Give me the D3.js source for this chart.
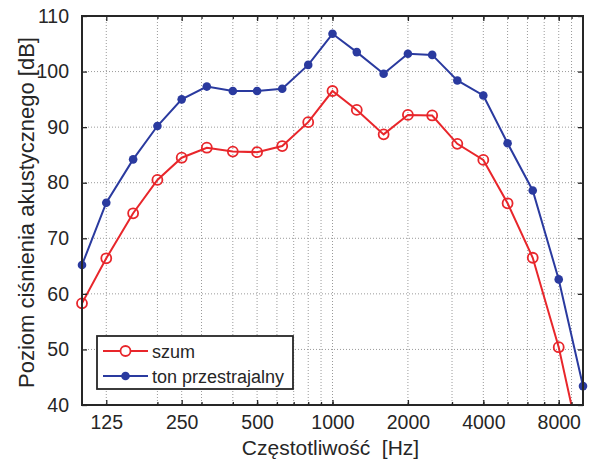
<!DOCTYPE html>
<html>
<head>
<meta charset="utf-8">
<script src="https://cdn.jsdelivr.net/npm/d3@7"></script>
<style>
  html, body { margin: 0; padding: 0; background: #fff; }
  svg { display: block; font-family: "Liberation Sans", Arial, Helvetica, sans-serif; }
</style>
</head>
<body>
<svg id="chart" width="589" height="466"></svg>
<script>
// Third-octave band centre frequencies [Hz]
const freqs = [100, 125, 160, 200, 250, 315, 400, 500, 630, 800, 1000,
               1250, 1600, 2000, 2500, 3150, 4000, 5000, 6300, 8000, 10000];
// Sound pressure level [dB] for each band
const szum = [58.3, 66.4, 74.5, 80.5, 84.5, 86.3, 85.6, 85.5, 86.6, 90.9, 96.5,
              93.1, 88.7, 92.2, 92.1, 87.0, 84.1, 76.3, 66.5, 50.4, 30.5];
const tonPrzestrajalny = [65.2, 76.4, 84.2, 90.2, 95.0, 97.3, 96.5, 96.5, 96.9, 101.2, 106.8,
                          103.5, 99.6, 103.2, 103.0, 98.4, 95.7, 87.1, 78.6, 62.6, 43.4];
const xTicks = [125, 250, 500, 1000, 2000, 4000, 8000];
const xMinor = [200, 300, 400, 500, 600, 700, 800, 900,
                1000, 2000, 3000, 4000, 5000, 6000, 7000, 8000, 9000];
const yTicks = [40, 50, 60, 70, 80, 90, 100, 110];
const seriesNames = ["szum", "ton przestrajalny"];

const svg = d3.select("#chart");
const L = 82, R = 583, T = 16, B = 405;

const x = d3.scaleLog().domain([100, 10000]).range([L, R]);
const y = d3.scaleLinear().domain([40, 110]).range([B, T]);

const axisColor = "#262626";
const gridColor = "#9a9a9a";
const red = "#e8262b";
const blue = "#2a3a9f";

// grid
const grid = svg.append("g");
const gridX = Array.from(new Set(xMinor.concat(xTicks))).sort((a, b) => a - b);
grid.selectAll("line.gx").data(gridX).join("line")
  .attr("x1", d => x(d)).attr("x2", d => x(d))
  .attr("y1", T).attr("y2", B)
  .attr("stroke", gridColor).attr("stroke-width", 1)
  .attr("stroke-dasharray", "1,2");
grid.selectAll("line.gy").data(yTicks.slice(1, -1)).join("line")
  .attr("x1", L).attr("x2", R)
  .attr("y1", d => y(d)).attr("y2", d => y(d))
  .attr("stroke", gridColor).attr("stroke-width", 1)
  .attr("stroke-dasharray", "1,2");

// clip region for the lines
svg.append("defs").append("clipPath").attr("id", "plotClip")
  .append("rect").attr("x", L).attr("y", T).attr("width", R - L).attr("height", B - T);

const line = d3.line().x(d => x(d[0])).y(d => y(d[1]));
const redData = freqs.map((f, i) => [f, szum[i]]);
const blueData = freqs.map((f, i) => [f, tonPrzestrajalny[i]]);
const inRange = d => d[1] >= 40 && d[1] <= 110;

const plot = svg.append("g").attr("clip-path", "url(#plotClip)");
plot.append("path").datum(redData).attr("d", line)
  .attr("fill", "none").attr("stroke", red).attr("stroke-width", 2);
plot.append("path").datum(blueData).attr("d", line)
  .attr("fill", "none").attr("stroke", blue).attr("stroke-width", 2);

// markers (only those inside the y range), not clipped at the frame edges
const marks = svg.append("g");
marks.selectAll("circle.r").data(redData.filter(inRange)).join("circle")
  .attr("class", "r")
  .attr("cx", d => x(d[0])).attr("cy", d => y(d[1])).attr("r", 5)
  .attr("fill", "none").attr("stroke", red).attr("stroke-width", 1.8);
marks.selectAll("circle.b").data(blueData.filter(inRange)).join("circle")
  .attr("class", "b")
  .attr("cx", d => x(d[0])).attr("cy", d => y(d[1])).attr("r", 4.3)
  .attr("fill", blue);

// axes
const fontSize = 19.5;
const xAxisB = d3.axisBottom(x).tickValues(xTicks).tickFormat(d3.format("d"))
  .tickSizeInner(-5).tickSizeOuter(0).tickPadding(10);
const gxB = svg.append("g").attr("transform", `translate(0,${B})`).call(xAxisB);
const xAxisT = d3.axisTop(x).tickValues(xTicks).tickFormat("").tickSizeInner(-5).tickSizeOuter(0);
const gxT = svg.append("g").attr("transform", `translate(0,${T})`).call(xAxisT);
const xMinB = d3.axisBottom(x).tickValues(xMinor).tickFormat("").tickSizeInner(-3).tickSizeOuter(0);
const gmB = svg.append("g").attr("transform", `translate(0,${B})`).call(xMinB);
const xMinT = d3.axisTop(x).tickValues(xMinor).tickFormat("").tickSizeInner(-3).tickSizeOuter(0);
const gmT = svg.append("g").attr("transform", `translate(0,${T})`).call(xMinT);

const yAxisL = d3.axisLeft(y).tickValues(yTicks).tickSizeInner(-5).tickSizeOuter(0).tickPadding(13);
const gyL = svg.append("g").attr("transform", `translate(${L},0)`).call(yAxisL);
const yAxisR = d3.axisRight(y).tickValues(yTicks).tickFormat("").tickSizeInner(-5).tickSizeOuter(0);
const gyR = svg.append("g").attr("transform", `translate(${R},0)`).call(yAxisR);

[gxB, gxT, gmB, gmT, gyL, gyR].forEach(g => {
  g.select(".domain").remove();
  g.selectAll(".tick line").attr("stroke", axisColor).attr("stroke-width", 1.3);
  g.selectAll(".tick text").attr("fill", "#262626").attr("font-size", fontSize)
    .attr("font-family", "'Liberation Sans', Arial, sans-serif");
});

// box
svg.append("rect").attr("x", L).attr("y", T).attr("width", R - L).attr("height", B - T)
  .attr("fill", "none").attr("stroke", axisColor).attr("stroke-width", 2);

// axis titles
svg.append("text").attr("x", (L + R) / 2 - 2).attr("y", 455)
  .attr("text-anchor", "middle").attr("font-size", 21).attr("fill", "#262626")
  .attr("xml:space", "preserve")
  .text("Częstotliwość  [Hz]");
svg.append("text")
  .attr("transform", `translate(34,${(T + B) / 2 + 2}) rotate(-90)`)
  .attr("text-anchor", "middle").attr("font-size", 22).attr("fill", "#262626")
  .text("Poziom ciśnienia akustycznego [dB]");

// legend
const lg = svg.append("g");
lg.append("rect").attr("x", 97).attr("y", 336).attr("width", 196).attr("height", 53)
  .attr("fill", "#fff").attr("stroke", axisColor).attr("stroke-width", 1.8);
const rows = [
  { name: seriesNames[0], color: red, filled: false, yy: 351 },
  { name: seriesNames[1], color: blue, filled: true, yy: 376 }
];
rows.forEach(r => {
  lg.append("line").attr("x1", 103).attr("x2", 148).attr("y1", r.yy).attr("y2", r.yy)
    .attr("stroke", r.color).attr("stroke-width", 2);
  lg.append("circle").attr("cx", 125.5).attr("cy", r.yy).attr("r", r.filled ? 4.3 : 5)
    .attr("fill", r.filled ? r.color : "#fff").attr("stroke", r.filled ? "none" : r.color)
    .attr("stroke-width", 1.8);
  lg.append("text").attr("x", 152).attr("y", r.yy + 6.5).attr("font-size", 18)
    .attr("fill", "#262626").text(r.name);
});
</script>
</body>
</html>
